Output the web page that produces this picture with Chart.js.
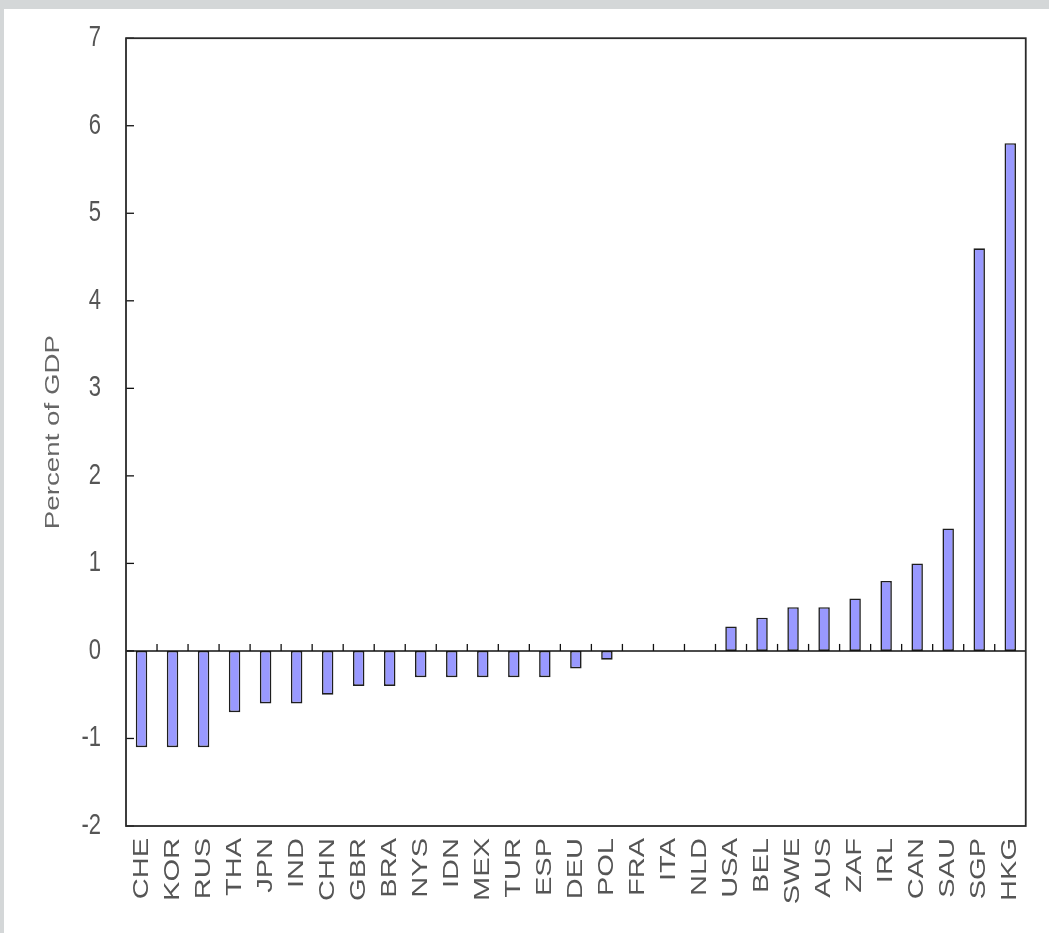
<!DOCTYPE html>
<html>
<head>
<meta charset="utf-8">
<script src="https://cdn.jsdelivr.net/npm/chart.js@4/dist/chart.umd.min.js"></script>
<style>
  html, body { margin: 0; padding: 0; width: 1049px; height: 933px; overflow: hidden; background: #d4d7d8; }
  #panel { position: absolute; left: 4px; top: 9px; right: 0; bottom: 0; background: #ffffff; }
  #c { position: absolute; left: 0; top: 0; width: 1049px; height: 933px; }
</style>
</head>
<body>
<div id="panel"></div>
<canvas id="c" width="1049" height="933"></canvas>
<script>
// ---- data ----
const categories = ["CHE","KOR","RUS","THA","JPN","IND","CHN","GBR","BRA","NYS","IDN","MEX","TUR","ESP","DEU","POL","FRA","ITA","NLD","USA","BEL","SWE","AUS","ZAF","IRL","CAN","SAU","SGP","HKG"];
const values = [-1.1,-1.1,-1.1,-0.7,-0.6,-0.6,-0.5,-0.4,-0.4,-0.3,-0.3,-0.3,-0.3,-0.3,-0.2,-0.1,0,0,0,0.28,0.38,0.5,0.5,0.6,0.8,1.0,1.4,4.6,5.8];
const yTicks = [-2,-1,0,1,2,3,4,5,6,7];
const yTitle = "Percent of GDP";

const FONT = "'Liberation Sans', Arial, sans-serif";
const TEXT_STRETCH = 1.32; // text in the reference is drawn taller than wide

const canvas = document.getElementById('c');
const ctx2d = canvas.getContext('2d');
const origFillText = ctx2d.fillText;
ctx2d.fillText = function (text, x, y, maxW) {
  const m = this.getTransform();
  const p = m.transformPoint(new DOMPoint(x, y));
  this.save();
  this.setTransform(new DOMMatrix().translate(p.x, p.y).scale(1, TEXT_STRETCH).translate(-p.x, -p.y).multiply(m));
  if (maxW === undefined) origFillText.call(this, text, x, y);
  else origFillText.call(this, text, x, y, maxW);
  this.restore();
};

const framePlugin = {
  id: 'frame',
  afterDatasetsDraw(chart) {
    const ctx = chart.ctx;
    const a = chart.chartArea;
    const xs = chart.scales.x, ys = chart.scales.y;
    ctx.save();
    const y0 = ys.getPixelForValue(0);
    ctx.strokeStyle = '#111';
    ctx.lineWidth = 1.6;
    ctx.beginPath();
    ctx.moveTo(a.left, y0); ctx.lineTo(a.right, y0);
    ctx.stroke();
    ctx.lineWidth = 1.3;
    for (let i = 1; i < categories.length; i++) {
      const x = (xs.getPixelForValue(i - 1) + xs.getPixelForValue(i)) / 2;
      ctx.beginPath();
      ctx.moveTo(x, y0); ctx.lineTo(x, y0 - 7);
      ctx.stroke();
    }
    yTicks.forEach(v => {
      const y = ys.getPixelForValue(v);
      ctx.beginPath();
      ctx.moveTo(a.left, y); ctx.lineTo(a.left + 8, y);
      ctx.stroke();
    });
    ctx.strokeStyle = '#2a2a2a';
    ctx.lineWidth = 1.8;
    ctx.strokeRect(a.left, a.top, a.right - a.left, a.bottom - a.top);
    ctx.restore();
  }
};

new Chart(canvas, {
  type: 'bar',
  data: {
    labels: categories,
    datasets: [{
      data: values,
      backgroundColor: '#9999ff',
      borderColor: '#1e1e1e',
      borderWidth: 1.6,
      borderSkipped: false,
      barPercentage: 0.37,
      categoryPercentage: 1.0
    }]
  },
  options: {
    responsive: false,
    animation: false,
    devicePixelRatio: 1,
    layout: { padding: { left: 0, top: 37, right: 21, bottom: 0 } },
    plugins: { legend: { display: false }, tooltip: { enabled: false }, title: { display: false } },
    scales: {
      x: {
        grid: { display: false, drawTicks: false },
        border: { display: false },
        ticks: {
          color: '#555555',
          font: { family: FONT, size: 22 },
          maxRotation: 90, minRotation: 90,
          padding: 12,
          autoSkip: false
        },
        afterFit(s) { s.height = 107; }
      },
      y: {
        min: -2, max: 7,
        grid: { display: false, drawTicks: false },
        border: { display: false },
        ticks: {
          stepSize: 1,
          color: '#555555',
          font: { family: FONT, size: 22 },
          padding: 25
        },
        title: {
          display: true,
          text: yTitle,
          color: '#666',
          font: { family: FONT, size: 21 },
          padding: { top: 41, bottom: 0 }
        },
        afterFit(s) { s.width = 126; }
      }
    }
  },
  plugins: [framePlugin]
});
</script>
</body>
</html>
